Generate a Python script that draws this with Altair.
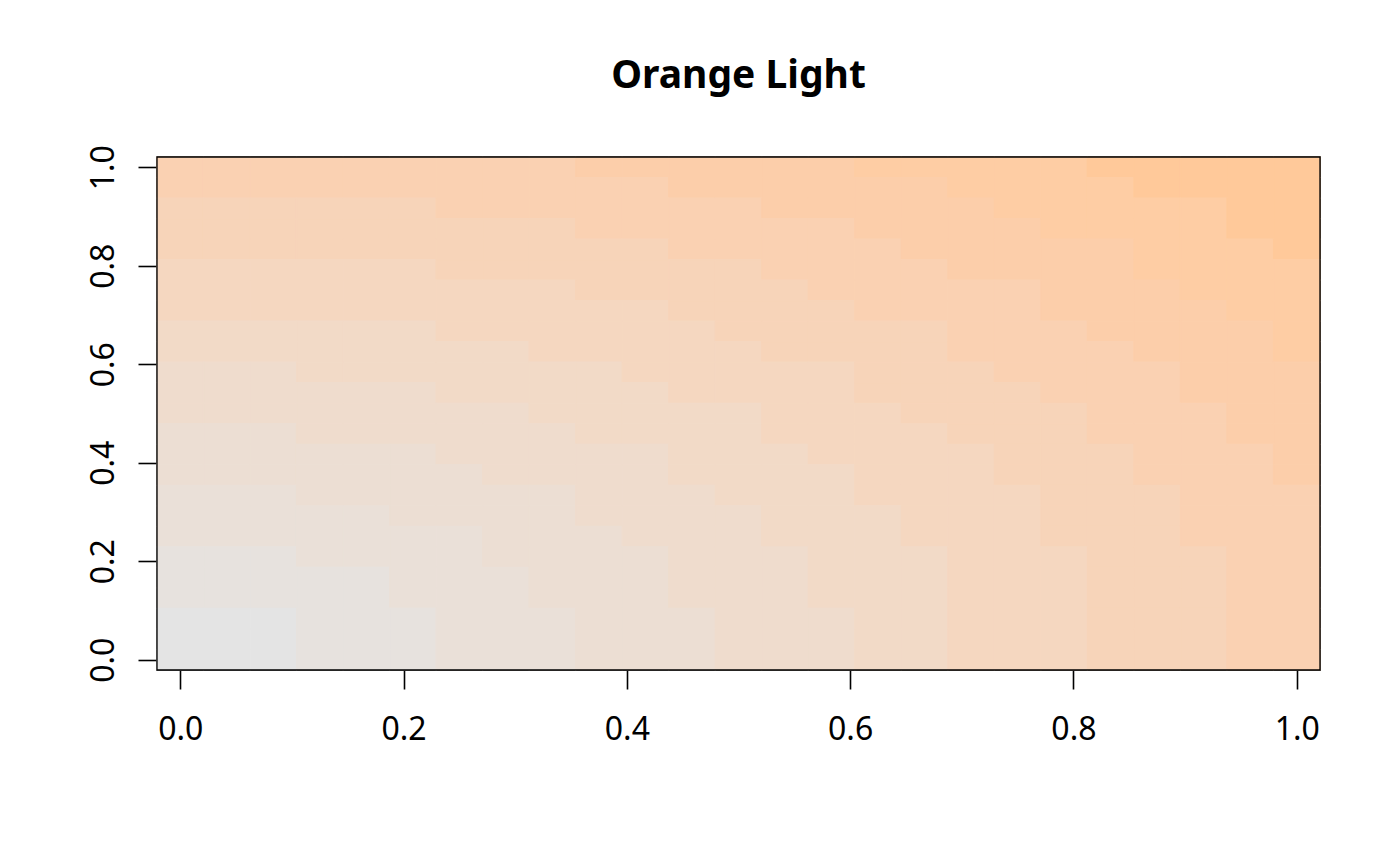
import altair as alt
import pandas as pd

TITLE = "Orange Light"

# Shade level of every cell.
# One string per row, from the top row (y = 1.0) down to the bottom row (y = 0.0);
# one hex character per column, from x = 0.0 (left) to x = 1.0 (right).
LEVEL_ROWS = [
    "888888888999999aaaaabbbbb",
    "88888888888999999aaaabbbb",
    "777777888888899999aaaaabb",
    "7777777778888889999aaaabb",
    "777777777778888899999aaab",
    "666666777777788889999aaaa",
    "6666666667777788888999aaa",
    "66666666666777788889999aa",
    "555555666666777778889999a",
    "555555556666677778888999a",
    "4445555555666667778888999",
    "4444445555566667777888999",
    "4444444455555666777788899",
    "3334444445555666677788899",
    "3333334444455566667778889",
    "3333333444455556667778889",
    "2223333334445556666777888",
    "2222233334444555666777888",
    "2222222333444555666777888",
    "1112222333344455566677788",
    "1111122233344455566677788",
    "1111122233344455566677788",
    "0001112223334445566677788",
    "0001112223334445566677788",
    "0001112223334445566677788",
]

# Colour of each shade level (0 = grey corner, 11 = deepest orange)
PALETTE = [
    "#E4E4E4", "#E7E2DE", "#EAE0D8", "#ECDED3", "#EFDCCD", "#F2DAC7",
    "#F5D7C0", "#F7D4B9", "#FAD1B2", "#FCCEAA", "#FECDA4", "#FFC99A",
]

TICKS = [0.0, 0.2, 0.4, 0.6, 0.8, 1.0]

W, H = 1163, 513

n = len(LEVEL_ROWS)
step = 1.0 / (n - 1)
half = step / 2

records = []
for i, row in enumerate(LEVEL_ROWS):
    r = n - 1 - i
    for c, ch in enumerate(row):
        records.append({
            "x0": c * step - half, "x1": c * step + half,
            "y0": r * step - half, "y1": r * step + half,
            "level": int(ch, 16),
        })
df = pd.DataFrame(records)

dom = [-half, 1 + half]
levels = list(range(len(PALETTE)))

cells = alt.Chart(df).mark_rect(strokeWidth=1.2).encode(
    x=alt.X("x0:Q", scale=alt.Scale(domain=dom, nice=False, zero=False),
            axis=alt.Axis(values=TICKS, format=".1f", title=None,
                          labelPadding=25)),
    x2="x1:Q",
    y=alt.Y("y0:Q", scale=alt.Scale(domain=dom, nice=False, zero=False),
            axis=alt.Axis(values=TICKS, format=".1f", title=None,
                          labelAngle=270, labelAlign="center",
                          labelBaseline="bottom", labelPadding=18)),
    y2="y1:Q",
    fill=alt.Fill("level:O", scale=alt.Scale(domain=levels, range=PALETTE), legend=None),
    stroke=alt.Stroke("level:O", scale=alt.Scale(domain=levels, range=PALETTE), legend=None),
)

# plot box drawn on top of the cells
frame = alt.Chart(pd.DataFrame({"box": [0]})).mark_rect(
    fillOpacity=0, stroke="black", strokeWidth=1.3
).encode(
    x=alt.value(0), x2=alt.value(W), y=alt.value(0), y2=alt.value(H)
)

chart = alt.layer(cells, frame).properties(
    width=W,
    height=H,
    title=alt.Title(TITLE, font="Noto Sans", fontSize=39, fontWeight="bold",
                    color="black", anchor="middle", baseline="alphabetic", offset=18),
    autosize="none",
    padding={"left": 149, "top": 149, "right": 50, "bottom": 170},
).configure_view(
    stroke="black", strokeWidth=1.3
).configure_axis(
    domain=False, grid=False, ticks=True, tickColor="black", tickSize=19,
    tickWidth=1.6, labelFont="Noto Sans", labelFontSize=32, labelColor="black",
)

chart.save("out.html", embed_options={"renderer": "svg", "actions": False})
